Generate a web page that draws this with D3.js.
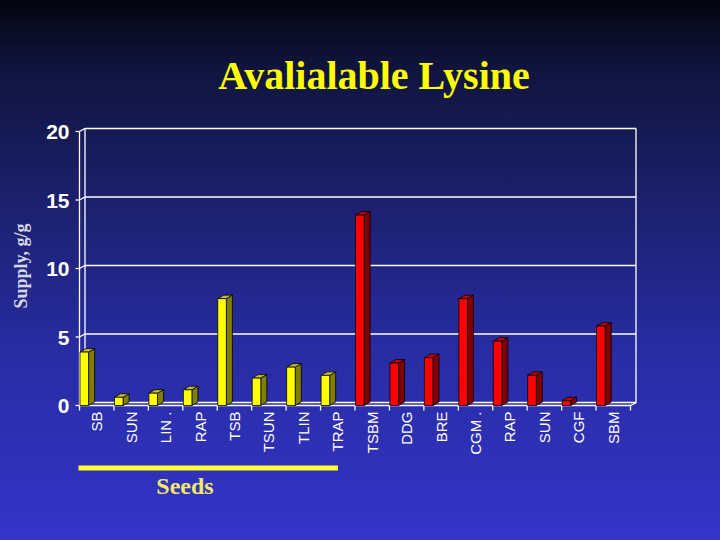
<!DOCTYPE html>
<html>
<head>
<meta charset="utf-8">
<script src="https://cdn.jsdelivr.net/npm/d3@7"></script>
<style>
  html, body { margin: 0; padding: 0; background: #1a1f66; }
  svg { display: block; }
</style>
</head>
<body>
<script>
// chart data
const categories = ["SB", "SUN", "LIN .", "RAP", "TSB", "TSUN", "TLIN", "TRAP",
                    "TSBM", "DDG", "BRE", "CGM .", "RAP", "SUN", "CGF", "SBM"];
const lysine = [3.9, 0.6, 0.9, 1.15, 7.8, 2.0, 2.8, 2.2,
                13.9, 3.1, 3.5, 7.8, 4.7, 2.2, 0.35, 5.8];
const groups = ["seed", "seed", "seed", "seed", "seed", "seed", "seed", "seed",
                "meal", "meal", "meal", "meal", "meal", "meal", "meal", "meal"];
const yTicks = [0, 5, 10, 15, 20];

const W = 720, H = 540;
const dx = 5.5, dy = -3;           // depth offset of the back wall
const front = {left: 79.5, right: 630.5, top: 131.5, bottom: 405.5};

const colors = {
    seed: {front: "#ffff00", side: "#808000", top: "#c0c030"},
    meal: {front: "#ff0000", side: "#800000", top: "#c00000"}
};

const svg = d3.select("body").append("svg")
    .attr("width", W)
    .attr("height", H);

// background gradient
const grad = svg.append("defs").append("linearGradient")
    .attr("id", "bg")
    .attr("x1", 0).attr("y1", 0).attr("x2", 0).attr("y2", 1);
grad.selectAll("stop")
    .data([[0, "#04050e"], [0.12, "#10143c"], [0.35, "#1b1f68"],
           [0.65, "#282ca2"], [1, "#3434c8"]])
    .enter().append("stop")
    .attr("offset", d => d[0])
    .attr("stop-color", d => d[1]);
svg.append("rect").attr("width", W).attr("height", H).attr("fill", "url(#bg)");

// scales
const x = d3.scaleBand()
    .domain(d3.range(categories.length))
    .range([front.left, front.right]);
const y = d3.scaleLinear()
    .domain([0, 20])
    .range([front.bottom, front.top]);

// walls and gridlines
const grid = svg.append("g")
    .attr("fill", "none")
    .attr("stroke", "#ffffff")
    .attr("stroke-width", 1.3);

grid.selectAll(".hline")
    .data(yTicks)
    .enter().append("path")
    .attr("class", "hline")
    .attr("d", d => "M" + front.left + "," + y(d) +
                    "L" + (front.left + dx) + "," + (y(d) + dy) +
                    "L" + (front.right + dx) + "," + (y(d) + dy));

grid.append("path")
    .attr("d", "M" + front.left + "," + front.top + "V" + front.bottom +
               "M" + (front.left + dx) + "," + (front.top + dy) + "V" + (front.bottom + dy) +
               "M" + (front.right + dx) + "," + (front.top + dy) + "V" + (front.bottom + dy) +
               "L" + front.right + "," + front.bottom + "H" + front.left);

// y ticks
grid.selectAll(".ytick")
    .data(yTicks)
    .enter().append("line")
    .attr("x1", front.left - 4).attr("x2", front.left)
    .attr("y1", d => y(d)).attr("y2", d => y(d));

// x ticks at band boundaries
grid.selectAll(".xtick")
    .data(d3.range(categories.length + 1))
    .enter().append("line")
    .attr("x1", i => front.left + i * x.step())
    .attr("x2", i => front.left + i * x.step())
    .attr("y1", front.bottom)
    .attr("y2", front.bottom + 5);

// bars
const bw = x.bandwidth() * 0.25, bdx = 6, bdy = -3.5;
const bars = svg.append("g")
    .attr("stroke", "#000000")
    .attr("stroke-width", 0.8)
    .attr("stroke-linejoin", "round")
    .selectAll("g")
    .data(lysine)
    .enter().append("g");

bars.append("path")
    .attr("fill", (d, i) => colors[groups[i]].side)
    .attr("d", (d, i) => {
        let x1 = x(i) + 0.5 + bw;
        return "M" + x1 + "," + y(d) + "L" + (x1 + bdx) + "," + (y(d) + bdy) +
               "L" + (x1 + bdx) + "," + (y(0) + bdy) + "L" + x1 + "," + y(0) + "Z";
    });
bars.append("path")
    .attr("fill", (d, i) => colors[groups[i]].top)
    .attr("d", (d, i) => {
        let x0 = x(i) + 0.5;
        return "M" + x0 + "," + y(d) + "L" + (x0 + bdx) + "," + (y(d) + bdy) +
               "H" + (x0 + bw + bdx) + "L" + (x0 + bw) + "," + y(d) + "Z";
    });
bars.append("rect")
    .attr("fill", (d, i) => colors[groups[i]].front)
    .attr("x", (d, i) => x(i) + 0.5)
    .attr("y", d => y(d))
    .attr("width", bw)
    .attr("height", d => y(0) - y(d));

// y tick labels
svg.append("g").selectAll("text")
    .data(yTicks)
    .enter().append("text")
    .attr("x", front.left - 10)
    .attr("y", d => y(d) + 7.5)
    .attr("text-anchor", "end")
    .attr("font-family", "Liberation Sans, Arial, sans-serif")
    .attr("font-weight", "bold")
    .attr("font-size", 21)
    .attr("fill", "#ffffff")
    .text(d => d);

// category labels
svg.append("g").selectAll("text")
    .data(categories)
    .enter().append("text")
    .attr("transform", (d, i) => "translate(" + (x(i) + x.bandwidth() / 2 + 5.5) +
                                 "," + (front.bottom + 6) + ") rotate(-90)")
    .attr("text-anchor", "end")
    .attr("font-family", "Liberation Sans, Arial, sans-serif")
    .attr("font-size", 15)
    .attr("fill", "#ffffff")
    .text(d => d);

// title
svg.append("text")
    .attr("x", 374)
    .attr("y", 89)
    .attr("text-anchor", "middle")
    .attr("font-family", "Liberation Serif, Times New Roman, serif")
    .attr("font-weight", "bold")
    .attr("font-size", 40)
    .attr("fill", "#ffff00")
    .text("Avalialable Lysine");

// y axis label
svg.append("text")
    .attr("transform", "translate(27,266) rotate(-90)")
    .attr("text-anchor", "middle")
    .attr("font-family", "Liberation Serif, Times New Roman, serif")
    .attr("font-weight", "bold")
    .attr("font-size", 18)
    .attr("fill", "#d8d8e4")
    .text("Supply, g/g");

// seeds bracket
let seedIdx = d3.range(categories.length).filter(i => groups[i] === "seed");
svg.append("line")
    .attr("x1", x(seedIdx[0]) - 1)
    .attr("x2", x(seedIdx[seedIdx.length - 1]) + x.step() - 17)
    .attr("y1", 468).attr("y2", 468)
    .attr("stroke", "#ffff33")
    .attr("stroke-width", 5);

svg.append("text")
    .attr("x", 185)
    .attr("y", 494)
    .attr("text-anchor", "middle")
    .attr("font-family", "Liberation Serif, Times New Roman, serif")
    .attr("font-weight", "bold")
    .attr("font-size", 24)
    .attr("fill", "#f0e868")
    .text("Seeds");
</script>
</body>
</html>
